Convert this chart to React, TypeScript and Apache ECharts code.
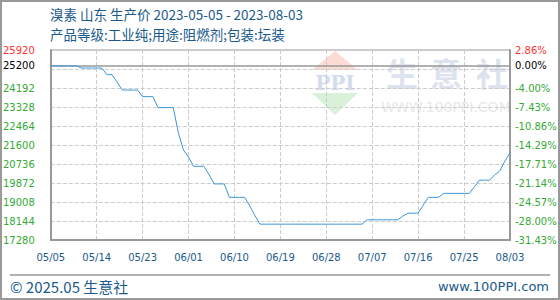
import React, { useEffect, useRef } from "react";
import * as echarts from "echarts";

const startDate = "2023-05-05";
const dayCount = 91;
const prices: number[] = [
  25200, 25200, 25200, 25200, 25200, 25200,
  25100, 25100, 25100, 25100, 25100,
  24800, 24800,
  24460,
  24100, 24100, 24100, 24100,
  23800, 23800, 23800,
  23300, 23300, 23300, 23300,
  22150, 21370, 21050,
  20630, 20630, 20630,
  20260,
  19830, 19830, 19830,
  19220, 19220, 19220, 19220,
  18830, 18390,
  18000, 18000, 18000, 18000, 18000, 18000, 18000, 18000, 18000, 18000, 18000,
  18000, 18000, 18000, 18000, 18000, 18000, 18000, 18000, 18000, 18000,
  18200, 18200, 18200, 18200, 18200, 18200, 18200,
  18370,
  18500, 18500, 18500,
  18870,
  19220, 19220, 19220,
  19400, 19400, 19400, 19400, 19400, 19400,
  19690,
  20000, 20000, 20000,
  20240, 20420, 20870, 21240,
];
const basePrice = 25200;
const yMin = 17280;
const yMax = 25920;
const yStep = 864;
const leftTickLabels = [17280, 18144, 19008, 19872, 20736, 21600, 22464, 23328, 24192, 25200, 25920];
const titleText = "溴素 山东 生产价 2023-05-05 - 2023-08-03";
const subtitleText = "产品等级:工业纯;用途:阻燃剂;包装:坛装";
const footerLeft = "© 2025.05 生意社";
const footerRight = "www.100PPI.com";

function buildDates(): string[] {
  const out: string[] = [];
  const d0 = new Date(startDate + "T00:00:00Z");
  for (let i = 0; i < dayCount; i++) {
    const d = new Date(d0.getTime() + i * 86400000);
    const mm = String(d.getUTCMonth() + 1).padStart(2, "0");
    const dd = String(d.getUTCDate()).padStart(2, "0");
    out.push(mm + "/" + dd);
  }
  return out;
}

const labelColor = (v: any) => {
  const n = Number(v);
  if (n > basePrice) return "#ff3333";
  if (n === basePrice) return "#000000";
  return "#33aa33";
};

export default function App() {
  const ref = useRef<HTMLDivElement>(null);
  useEffect(() => {
    document.body.style.margin = "0";
    if (!ref.current) return;
    const chart = echarts.init(ref.current, undefined, { renderer: "svg" });
    const dates = buildDates();
    const font = "DejaVu Sans";
    const cjk = "'Noto Sans CJK SC', 'Noto Sans', sans-serif";
    const yAxisCommon = {
      type: "value" as const,
      min: yMin,
      max: yMax,
      interval: yStep,
      axisTick: { show: false },
    };
    chart.setOption({
      animation: false,
      backgroundColor: "#ffffff",
      grid: { left: 50, right: 50, top: 50, bottom: 60, show: true, borderColor: "#999", borderWidth: 1 },
      xAxis: {
        type: "category",
        data: dates,
        boundaryGap: false,
        axisLine: { lineStyle: { color: "#999", width: 2 } },
        axisTick: { show: false },
        axisLabel: { interval: 8, color: "#1a5a8c", fontFamily: font, fontSize: 10, margin: 12 },
        splitLine: { show: true, interval: 8, lineStyle: { color: "#cccccc", type: "dashed", width: 1 } },
      },
      yAxis: [
        {
          ...yAxisCommon,
          position: "left",
          axisLine: { show: true, lineStyle: { color: "#999", width: 2 } },
          axisLabel: {
            customValues: leftTickLabels,
            color: labelColor,
            fontFamily: font,
            fontSize: 10,
            margin: 16,
            formatter: (v: number) => String(v),
          },
          splitLine: { show: true, lineStyle: { color: "#cccccc", type: "dashed", width: 1 } },
        },
        {
          ...yAxisCommon,
          position: "right",
          axisLine: { show: true, lineStyle: { color: "#999", width: 2 } },
          axisLabel: {
            customValues: leftTickLabels,
            color: labelColor,
            fontFamily: font,
            fontSize: 10,
            margin: 5,
            formatter: (v: number) => (((v - basePrice) / basePrice) * 100).toFixed(2) + "%",
          },
          splitLine: { show: false },
        },
      ],
      series: [
        {
          type: "line",
          data: prices,
          symbol: "none",
          lineStyle: { color: "#3d97d9", width: 1 },
          z: 5,
          markLine: {
            silent: true,
            symbol: "none",
            label: { show: false },
            lineStyle: { color: "#999", type: "solid", width: 1.5 },
            data: [{ yAxis: basePrice }],
            z: 3,
          },
        },
      ],
      graphic: [
        { type: "rect", shape: { x: 1, y: 1, width: 558, height: 298 }, style: { fill: "none", stroke: "#999", lineWidth: 2 }, z: 10 },
        { type: "text", x: 50, y: 14, style: { text: titleText, font: `13.5px ${cjk}`, lineHeight: 15, fill: "#1a5a8c", textVerticalAlign: "middle" } },
        { type: "text", x: 50, y: 34, style: { text: subtitleText, font: `13.5px ${cjk}`, lineHeight: 15, fill: "#1a5a8c", textVerticalAlign: "middle" } },
        { type: "line", shape: { x1: 10, y1: 275, x2: 550, y2: 275 }, style: { stroke: "#999", lineWidth: 1.5 } },
        { type: "text", x: 10, y: 286, style: { text: footerLeft, font: `15px ${cjk}`, lineHeight: 18, fill: "#1a5a8c", textVerticalAlign: "middle" } },
        { type: "text", x: 549, y: 286, style: { text: footerRight, font: `13px ${font}`, fill: "#1a5a8c", textAlign: "right", textVerticalAlign: "middle" } },
        {
          type: "group",
          z: -10,
          silent: true,
          children: [
            { type: "polygon", shape: { points: [[312, 70], [358, 70], [335, 51]] }, style: { fill: "#fbdcd5" }, z: -10 },
            { type: "polygon", shape: { points: [[312, 93], [358, 93], [335, 115]] }, style: { fill: "#d9f0d9" }, z: -10 },
            { type: "text", x: 335, y: 83, style: { text: "PPI", font: "bold 20px 'DejaVu Serif'", fill: "#d2dcef", textAlign: "center", textVerticalAlign: "middle" }, z: -10 },
            { type: "text", x: 402, y: 72, style: { text: "生", font: `bold 32px ${cjk}`, fill: "#dde3ee", textAlign: "center", textVerticalAlign: "middle" }, z: -10 },
            { type: "text", x: 446, y: 72, style: { text: "意", font: `bold 32px ${cjk}`, fill: "#dde3ee", textAlign: "center", textVerticalAlign: "middle" }, z: -10 },
            { type: "text", x: 492, y: 72, style: { text: "社", font: `bold 32px ${cjk}`, fill: "#dde3ee", textAlign: "center", textVerticalAlign: "middle" }, z: -10 },
            { type: "text", x: 446, y: 107, style: { text: "WWW.100PPI.COM", font: `14px ${font}`, fill: "#e8e8e8", textAlign: "center", textVerticalAlign: "middle" }, z: -10 },
          ],
        },
      ],
    });
    return () => chart.dispose();
  }, []);
  return <div ref={ref} style={{ width: 560, height: 300 }} />;
}
